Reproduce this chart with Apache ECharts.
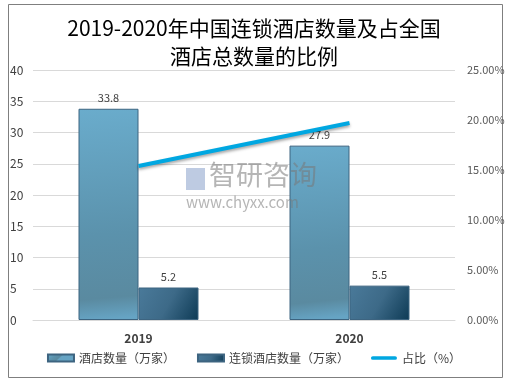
<!DOCTYPE html>
<html><head><meta charset="utf-8">
<script src="https://cdn.jsdelivr.net/npm/echarts@6/dist/echarts.min.js"></script>
<style>html,body{margin:0;padding:0;background:#fff}#c{width:508px;height:381px}</style>
</head><body><div id="c"></div>
<script>
const categories = ['2019', '2020'];
const hotels = [33.8, 27.9];
const chainHotels = [5.2, 5.5];
const ratio = [15.4, 19.7];
const leftTicks = [0, 40, 5];
const rightTicks = [0, 25, 5];

const chart = echarts.init(document.getElementById('c'));
const font = '"Noto Sans CJK SC","Noto Sans",sans-serif';
chart.setOption({
  animation: false,
  title: {
    text: '2019-2020年中国连锁酒店数量及占全国\n酒店总数量的比例',
    left: 'center', top: 9,
    textStyle: {fontFamily: font, fontSize: 21, fontWeight: 'normal', color: '#000', lineHeight: 28}
  },
  graphic: [
    {type: 'rect', shape: {x: 8.5, y: 4.5, width: 494, height: 373}, style: {fill: 'none', stroke: '#7f7f7f', lineWidth: 1}, silent: true},
    {type: 'text', left: 209, top: 161, style: {text: '智研咨询', font: '27px ' + font, fill: 'rgba(120,120,120,0.55)'}, z: 100},
    {type: 'text', left: 186, top: 195, style: {text: 'www.chyxx.com', font: '15px ' + font, fill: 'rgba(120,120,120,0.55)', letterSpacing: 3}, z: 100},
    {type: 'rect', shape: {x: 186, y: 168, width: 19, height: 22}, style: {fill: 'rgba(110,140,190,0.45)'}, z: 100}
  ],
  legend: {
    bottom: 12, left: 'center', itemGap: 22, itemWidth: 26, itemHeight: 7,
    textStyle: {fontFamily: font, fontSize: 12, color: '#404040'},
    data: [
      {name: '酒店数量（万家）', icon: 'rect'},
      {name: '连锁酒店数量（万家）', icon: 'rect'},
      {name: '占比（%）', icon: 'path://M2,0 L26,0 A2,2 0 0 1 26,4 L2,4 A2,2 0 0 1 2,0 Z'}
    ]
  },
  grid: {left: 33, right: 53, top: 70, bottom: 61},
  xAxis: {
    type: 'category', data: categories,
    axisLine: {show: true, lineStyle: {color: '#d9d9d9'}},
    axisTick: {show: false},
    axisLabel: {fontFamily: font, fontSize: 12, fontWeight: 'bold', color: '#404040', margin: 12}
  },
  yAxis: [
    {type: 'value', min: leftTicks[0], max: leftTicks[1], interval: leftTicks[2],
     axisLine: {show: false}, axisTick: {show: false},
     splitLine: {lineStyle: {color: '#d9d9d9'}},
     axisLabel: {fontFamily: font, fontSize: 12, color: '#404040', align: 'left', margin: 23}},
    {type: 'value', min: rightTicks[0], max: rightTicks[1], interval: rightTicks[2],
     axisLine: {show: false}, axisTick: {show: false}, splitLine: {show: false},
     axisLabel: {fontFamily: font, fontSize: 11, color: '#595959', margin: 12,
       formatter: v => v.toFixed(2) + '%'}}
  ],
  series: [
    {name: '酒店数量（万家）', type: 'bar', data: hotels, barWidth: 60, barGap: '0%',
     itemStyle: {borderColor: '#3d6480', borderWidth: 1,
       color: new echarts.graphic.LinearGradient(0, 0, 0.3, 1, [{offset: 0, color: '#6aaccc'}, {offset: 0.6, color: '#5b92ac'}, {offset: 0.9, color: '#5a8aa0'}, {offset: 1, color: '#66a4c4'}])},
     label: {show: true, position: 'top', fontFamily: font, fontSize: 11, color: '#404040', distance: 5}},
    {name: '连锁酒店数量（万家）', type: 'bar', data: chainHotels, barWidth: 60,
     itemStyle: {borderColor: '#3d6480', borderWidth: 1,
       color: new echarts.graphic.LinearGradient(0, 0, 1, 1, [{offset: 0, color: '#4a7a9a'}, {offset: 0.5, color: '#3d6a88'}, {offset: 1, color: '#0d3a55'}])},
     label: {show: true, position: 'top', fontFamily: font, fontSize: 11, color: '#404040', distance: 5}},
    {name: '占比（%）', type: 'line', yAxisIndex: 1, data: ratio, symbol: 'none',
     lineStyle: {color: '#00a7e1', width: 4, shadowColor: 'rgba(0,0,0,0.35)', shadowBlur: 3, shadowOffsetY: 2},
     itemStyle: {color: '#00a7e1'}, z: 5}
  ]
});
</script></body></html>
